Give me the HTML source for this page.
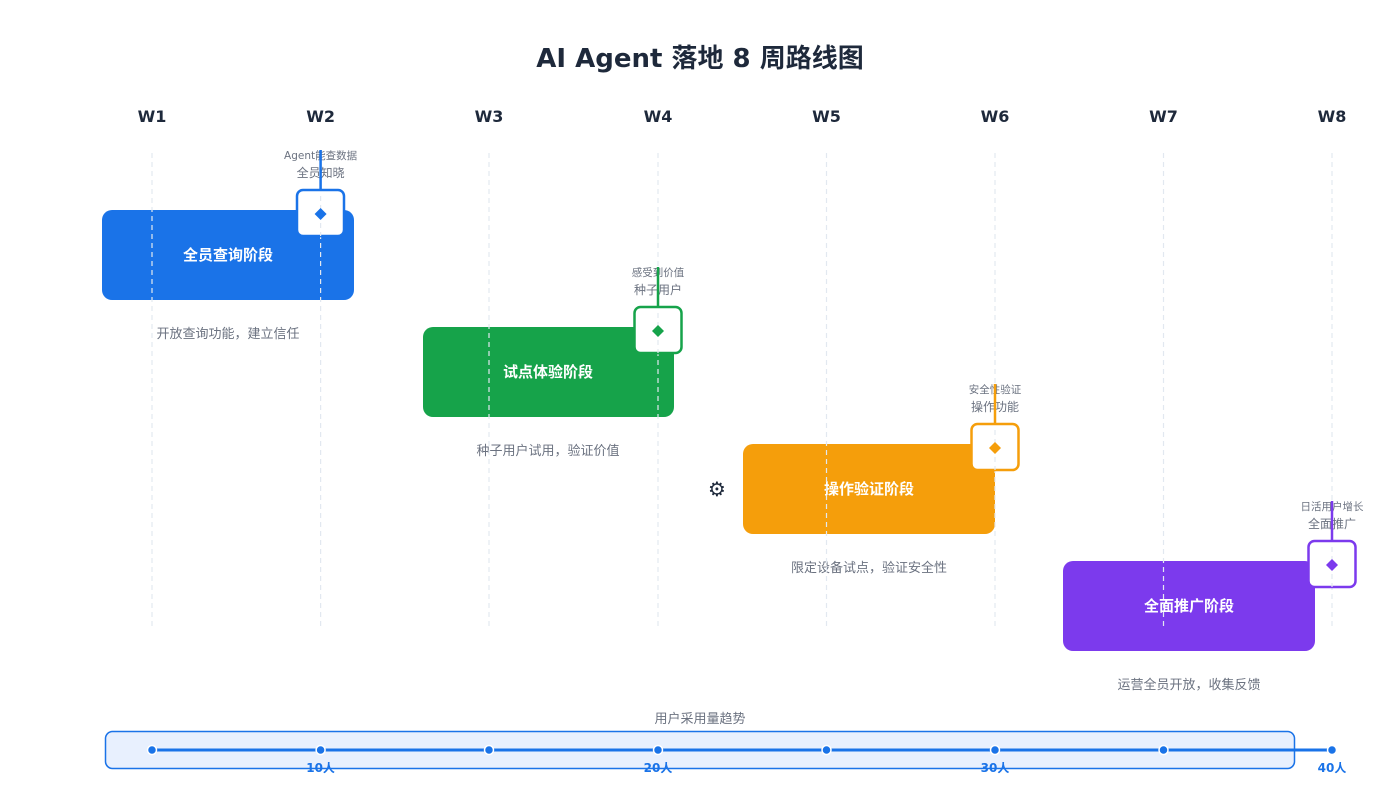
<!DOCTYPE html>
<html><head><meta charset="utf-8"><style>
html,body{margin:0;padding:0;background:#fff;}
svg{display:block;font-family:"DejaVu Sans","Noto Sans CJK SC",sans-serif;}
</style></head><body>
<svg width="1400" height="803" viewBox="0 0 1400 803" xmlns="http://www.w3.org/2000/svg">
<text x="700" y="67" text-anchor="middle" font-size="26" font-weight="bold" fill="#1e293b">AI Agent 落地 8 周路线图</text>
<g font-size="16" font-weight="bold" fill="#1e293b" text-anchor="middle">
<text x="152" y="122">W1</text><text x="320.6" y="122">W2</text><text x="489" y="122">W3</text><text x="658" y="122">W4</text>
<text x="826.5" y="122">W5</text><text x="995" y="122">W6</text><text x="1163.5" y="122">W7</text><text x="1332" y="122">W8</text>
</g>
<rect x="102" y="210" width="252" height="90" rx="10" fill="#1a73e8"/>
<rect x="423" y="327" width="251" height="90" rx="10" fill="#16a34a"/>
<rect x="743" y="444" width="252" height="90" rx="10" fill="#f59e0b"/>
<rect x="1063" y="561" width="252" height="90" rx="10" fill="#7c3aed"/>
<g font-size="15" font-weight="bold" fill="#fff" text-anchor="middle">
<text x="228" y="260">全员查询阶段</text><text x="548" y="377">试点体验阶段</text>
<text x="869" y="494">操作验证阶段</text><text x="1189" y="611">全面推广阶段</text>
</g>
<g font-size="13" fill="#6b7280" text-anchor="middle">
<text x="228" y="338">开放查询功能，建立信任</text><text x="548" y="455">种子用户试用，验证价值</text>
<text x="869" y="572">限定设备试点，验证安全性</text><text x="1189" y="689">运营全员开放，收集反馈</text>
</g>
<g stroke="#e2e8f0" stroke-width="1.2" stroke-dasharray="5,4">
<line x1="152" y1="153" x2="152" y2="627"/><line x1="320.6" y1="153" x2="320.6" y2="627"/><line x1="489" y1="153" x2="489" y2="627"/><line x1="658" y1="153" x2="658" y2="627"/>
<line x1="826.5" y1="153" x2="826.5" y2="627"/><line x1="995" y1="153" x2="995" y2="627"/><line x1="1163.5" y1="153" x2="1163.5" y2="627"/><line x1="1332" y1="153" x2="1332" y2="627"/>
</g>
<g font-size="10.5" fill="#6b7280" text-anchor="middle">
<text x="320.6" y="159">Agent能查数据</text><text x="320.6" y="177" font-size="12">全员知晓</text>
<text x="658" y="276">感受到价值</text><text x="658" y="294" font-size="12">种子用户</text>
<text x="995" y="393">安全性验证</text><text x="995" y="411" font-size="12">操作功能</text>
<text x="1332" y="510">日活用户增长</text><text x="1332" y="528" font-size="12">全面推广</text>
</g>
<g stroke-width="2.5" fill="#fff">
<line x1="320.6" y1="150" x2="320.6" y2="193" stroke="#1a73e8"/>
<rect x="297" y="190" width="47" height="46" rx="6" stroke="#1a73e8"/>
<line x1="658" y1="267" x2="658" y2="310" stroke="#16a34a"/>
<rect x="634.5" y="307" width="47" height="46" rx="6" stroke="#16a34a"/>
<line x1="995" y1="384" x2="995" y2="427" stroke="#f59e0b"/>
<rect x="971.5" y="424" width="47" height="46" rx="6" stroke="#f59e0b"/>
<line x1="1332" y1="501" x2="1332" y2="544" stroke="#7c3aed"/>
<rect x="1308.5" y="541" width="47" height="46" rx="6" stroke="#7c3aed"/>
</g>
<g stroke="#e2e8f0" stroke-width="1.2" stroke-dasharray="5,4">
<line x1="320.6" y1="196" x2="320.6" y2="236"/><line x1="658" y1="313" x2="658" y2="353"/><line x1="995" y1="430" x2="995" y2="470"/><line x1="1332" y1="547" x2="1332" y2="587"/>
</g>
<path d="M320.6 208 l6 6 l-6 6 l-6 -6z" fill="#1a73e8"/>
<path d="M658 325 l6 6 l-6 6 l-6 -6z" fill="#16a34a"/>
<path d="M995 442 l6 6 l-6 6 l-6 -6z" fill="#f59e0b"/>
<path d="M1332 559 l6 6 l-6 6 l-6 -6z" fill="#7c3aed"/>
<text x="717" y="496" font-size="20" text-anchor="middle" fill="#1e293b">⚙</text>
<text x="700" y="723" font-size="13" fill="#6b7280" text-anchor="middle">用户采用量趋势</text>
<rect x="105.5" y="731.5" width="1189" height="37" rx="7" fill="#e8f0fe" stroke="#1a73e8" stroke-width="1.5"/>
<line x1="152" y1="750" x2="1332" y2="750" stroke="#1a73e8" stroke-width="3"/>
<g fill="#1a73e8" stroke="#fff" stroke-width="1.5">
<circle cx="152" cy="750" r="4.5"/><circle cx="320.6" cy="750" r="4.5"/><circle cx="489" cy="750" r="4.5"/><circle cx="658" cy="750" r="4.5"/>
<circle cx="826.5" cy="750" r="4.5"/><circle cx="995" cy="750" r="4.5"/><circle cx="1163.5" cy="750" r="4.5"/><circle cx="1332" cy="750" r="4.5"/>
</g>
<g font-size="12" font-weight="bold" fill="#1a73e8" text-anchor="middle">
<text x="320.6" y="772">10人</text><text x="658" y="772">20人</text><text x="995" y="772">30人</text><text x="1332" y="772">40人</text>
</g>
</svg>
</body></html>
